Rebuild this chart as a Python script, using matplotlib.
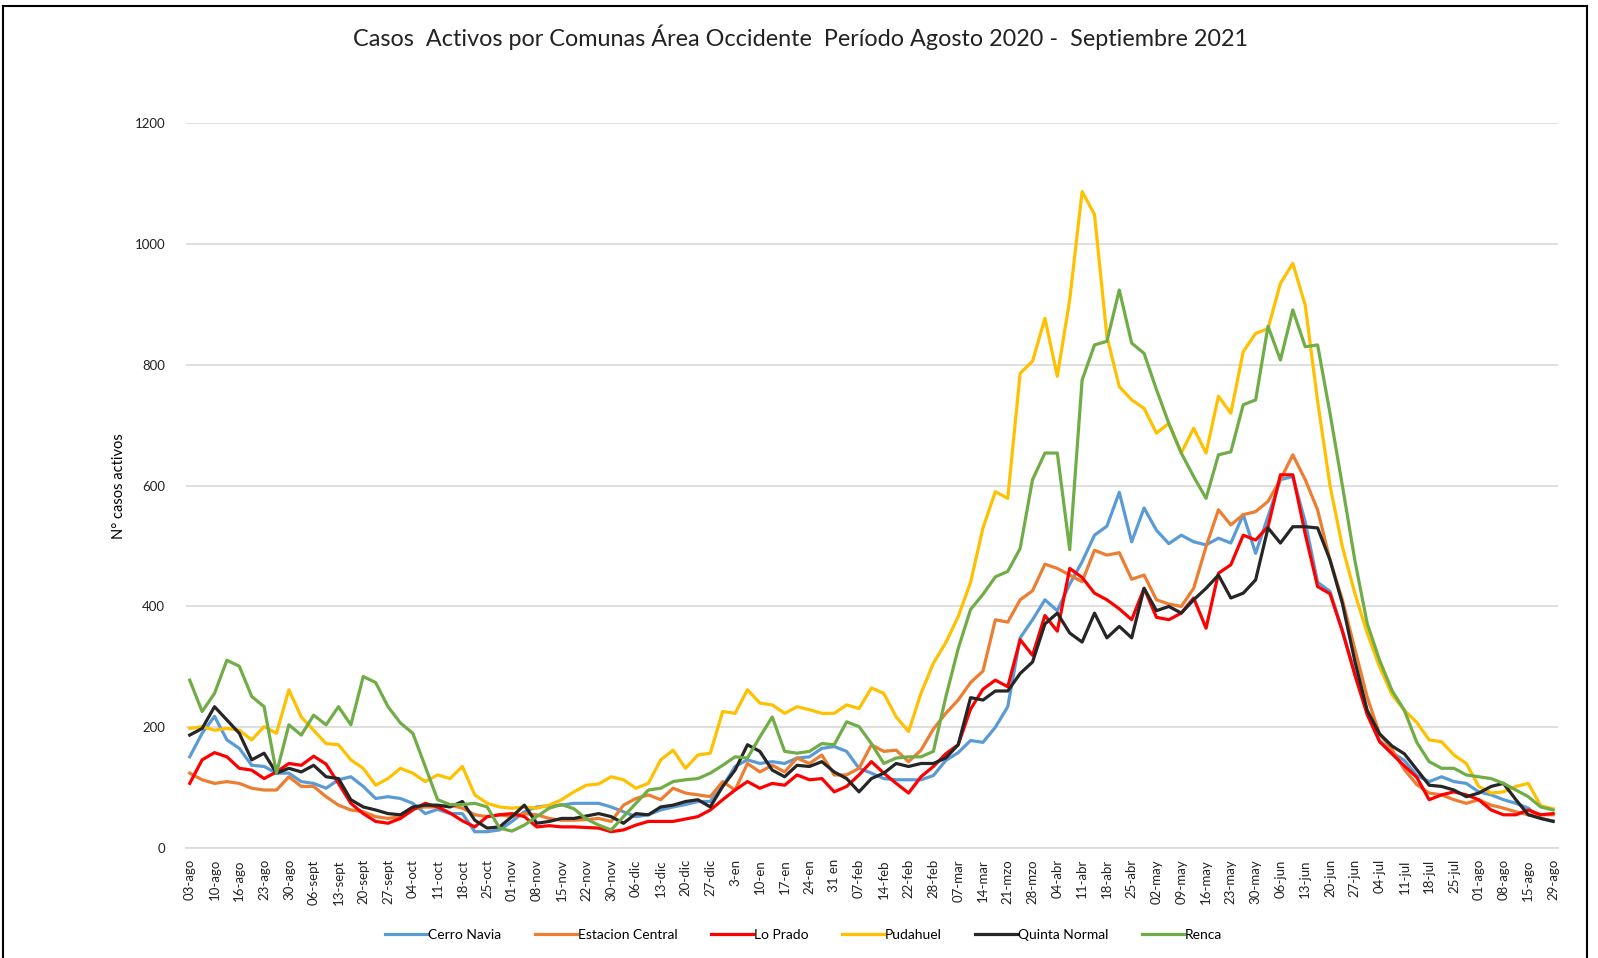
import numpy as np
import matplotlib.pyplot as plt
from matplotlib.lines import Line2D

plt.rcParams['font.family'] = ['Lato', 'DejaVu Sans']

# Etiquetas del eje x (una cada dos registros)
tick_labels = ['03-ago', '10-ago', '16-ago', '23-ago', '30-ago', '06-sept', '13-sept', '20-sept',
               '27-sept', '04-oct', '11-oct', '18-oct', '25-oct', '01-nov', '08-nov', '15-nov',
               '22-nov', '30-nov', '06-dic', '13-dic', '20-dic', '27-dic', '3-en', '10-en',
               '17-en', '24-en', '31 en', '07-feb', '14-feb', '22-feb', '28-feb', '07-mar',
               '14-mar', '21-mzo', '28-mzo', '04-abr', '11-abr', '18-abr', '25-abr', '02-may',
               '09-may', '16-may', '23-may', '30-may', '06-jun', '13-jun', '20-jun', '27-jun',
               '04-jul', '11-jul', '18-jul', '25-jul', '01-ago', '08-ago', '15-ago', '29-ago']

# Casos activos por comuna (111 registros)
cerro_navia = [151, 190, 218, 179, 165, 137, 135, 124, 124, 110, 107, 99, 113, 118, 102, 82, 85, 82, 74, 57,
               64, 57, 57, 27, 27, 30, 44, 60, 68, 70, 71, 74, 74, 74, 68, 60, 52, 55, 63, 68,
               72, 77, 77, 102, 135, 146, 140, 143, 140, 149, 151, 165, 168, 160, 132, 124, 115, 113, 113, 113,
               120, 145, 158, 178, 175, 200, 234, 348, 378, 411, 393, 437, 474, 518, 533, 589, 507, 563, 526, 504,
               518, 507, 502, 513, 505, 552, 488, 549, 610, 615, 540, 440, 425, 360, 290, 225, 178, 158, 145, 120,
               110, 118, 110, 107, 93, 88, 80, 74, 66, 49, 45]
estacion_central = [124, 113, 107, 110, 107, 99, 96, 96, 118, 102, 102, 85, 71, 63, 60, 52, 49, 52, 66, 68,
                    68, 71, 66, 55, 52, 55, 52, 57, 55, 49, 46, 46, 47, 49, 44, 71, 82, 88, 80, 99,
                    91, 88, 85, 110, 96, 140, 126, 137, 126, 149, 140, 154, 121, 121, 132, 171, 160, 162, 143, 162,
                    197, 223, 245, 274, 293, 378, 374, 411, 426, 470, 463, 452, 441, 493, 485, 489, 445, 452, 411, 404,
                    400, 430, 499, 560, 535, 552, 557, 574, 610, 651, 610, 560, 477, 411, 330, 250, 189, 163, 130, 105,
                    91, 88, 80, 74, 80, 71, 66, 60, 55, 55, 55]
lo_prado = [107, 146, 158, 151, 132, 129, 115, 126, 140, 137, 152, 139, 107, 74, 57, 44, 41, 49, 63, 74,
            68, 58, 45, 35, 52, 55, 57, 52, 35, 37, 35, 35, 34, 33, 27, 30, 38, 44, 44, 44,
            48, 52, 63, 80, 96, 110, 99, 107, 104, 121, 113, 115, 93, 102, 121, 143, 124, 107, 91, 118,
            135, 156, 171, 230, 263, 278, 267, 345, 319, 385, 359, 463, 448, 422, 411, 396, 378, 430, 382, 378,
            389, 414, 364, 455, 469, 518, 510, 532, 618, 618, 520, 433, 421, 359, 287, 221, 176, 156, 136, 117,
            80, 88, 93, 88, 80, 63, 55, 55, 63, 55, 57]
pudahuel = [198, 201, 195, 198, 195, 179, 201, 190, 262, 217, 195, 173, 171, 146, 132, 104, 115, 132, 124, 110,
            121, 115, 135, 88, 74, 68, 66, 68, 66, 71, 80, 93, 104, 106, 118, 113, 99, 107, 146, 162,
            132, 154, 157, 226, 223, 262, 240, 237, 223, 234, 229, 223, 223, 237, 231, 265, 256, 217, 193, 256,
            306, 340, 383, 440, 530, 590, 579, 786, 806, 877, 781, 908, 1087, 1049, 847, 764, 742, 728, 687, 703,
            654, 695, 654, 748, 720, 822, 852, 860, 935, 968, 899, 740, 600, 499, 422, 356, 300, 254, 228, 208,
            179, 176, 154, 140, 102, 91, 93, 102, 107, 70, 65]
quinta_normal = [187, 198, 234, 212, 190, 146, 157, 124, 132, 126, 137, 118, 115, 80, 68, 63, 57, 55, 68, 71,
                 71, 68, 77, 46, 33, 35, 52, 71, 41, 44, 49, 49, 53, 57, 52, 41, 57, 55, 68, 71,
                 77, 80, 68, 102, 129, 171, 160, 129, 118, 137, 135, 143, 126, 115, 93, 115, 124, 140, 135, 140,
                 140, 149, 171, 249, 245, 260, 260, 289, 308, 371, 389, 356, 341, 389, 348, 367, 348, 430, 393, 400,
                 389, 411, 430, 452, 414, 422, 444, 530, 505, 532, 532, 530, 477, 405, 310, 228, 189, 169, 156, 130,
                 104, 102, 96, 85, 91, 102, 107, 80, 55, 49, 44]
renca = [278, 226, 256, 311, 301, 251, 234, 124, 204, 187, 220, 204, 234, 204, 284, 274, 234, 207, 190, 135,
         80, 72, 72, 74, 68, 33, 28, 38, 52, 66, 72, 65, 48, 38, 30, 52, 74, 96, 99, 110,
         113, 115, 124, 137, 151, 149, 184, 217, 160, 157, 160, 173, 171, 209, 201, 173, 140, 149, 151, 151,
         160, 250, 330, 395, 420, 449, 458, 496, 610, 654, 654, 494, 775, 833, 839, 924, 836, 819, 759, 703,
         654, 615, 579, 651, 656, 734, 742, 864, 808, 891, 830, 833, 720, 600, 477, 372, 311, 261, 228, 175,
         143, 132, 132, 121, 118, 115, 107, 96, 85, 68, 63]

series = [('Cerro Navia', cerro_navia, '#5B9BD5'),
          ('Estacion Central', estacion_central, '#ED7D31'),
          ('Lo Prado', lo_prado, '#FF0000'),
          ('Pudahuel', pudahuel, '#FFC000'),
          ('Quinta Normal', quinta_normal, '#262626'),
          ('Renca', renca, '#70AD47')]

fig = plt.figure(figsize=(15.98, 9.58), dpi=100)
ax = fig.add_axes([0.1164, 0.1148, 0.8586, 0.7565])

x = np.arange(len(renca))
for name, vals, color in series:
    ax.plot(x, vals, color=color, linewidth=2.3, label=name)

ax.set_ylim(0, 1200)
ax.set_xlim(-0.3, len(renca) - 0.6)
ax.set_yticks(np.arange(0, 1201, 200))
ax.tick_params(axis='y', length=0, pad=15, labelsize=9.5, labelcolor='#222222')
ax.set_xticks(np.arange(0, len(renca), 2))
ax.set_xticklabels(tick_labels, rotation=90, fontsize=9.5, color='#222222')
ax.tick_params(axis='x', length=0, pad=8)
ax.grid(axis='y', color='#d9d9d9', linewidth=1.2)
ax.set_axisbelow(True)
for s in ['top', 'right', 'left']:
    ax.spines[s].set_visible(False)
ax.spines['bottom'].set_color('#d9d9d9')
ax.spines['bottom'].set_linewidth(1.2)

ax.set_ylabel('N° casos activos', fontsize=10.5, labelpad=6)

fig.text(0.501, 0.9606, 'Casos  Activos por Comunas Área Occidente  Período Agosto 2020 -  Septiembre 2021',
         ha='center', va='center', fontsize=16.8, color='#222222')

handles = [Line2D([0], [0], color=c, linewidth=2.3) for _, _, c in series]
fig.legend(handles, [n for n, _, _ in series], loc='center', bbox_to_anchor=(0.503, 0.0245),
           ncol=6, frameon=False, fontsize=10, handlelength=3, handletextpad=0.1, columnspacing=2.4)

# marco exterior
fig.add_artist(Line2D([0.002, 0.002], [0.0, 0.994], transform=fig.transFigure, color='black', linewidth=1.5))
fig.add_artist(Line2D([0.002, 0.993], [0.994, 0.994], transform=fig.transFigure, color='black', linewidth=1.5))
fig.add_artist(Line2D([0.993, 0.993], [0.0, 0.994], transform=fig.transFigure, color='black', linewidth=1.5))

fig.savefig('out.png', dpi=100)
